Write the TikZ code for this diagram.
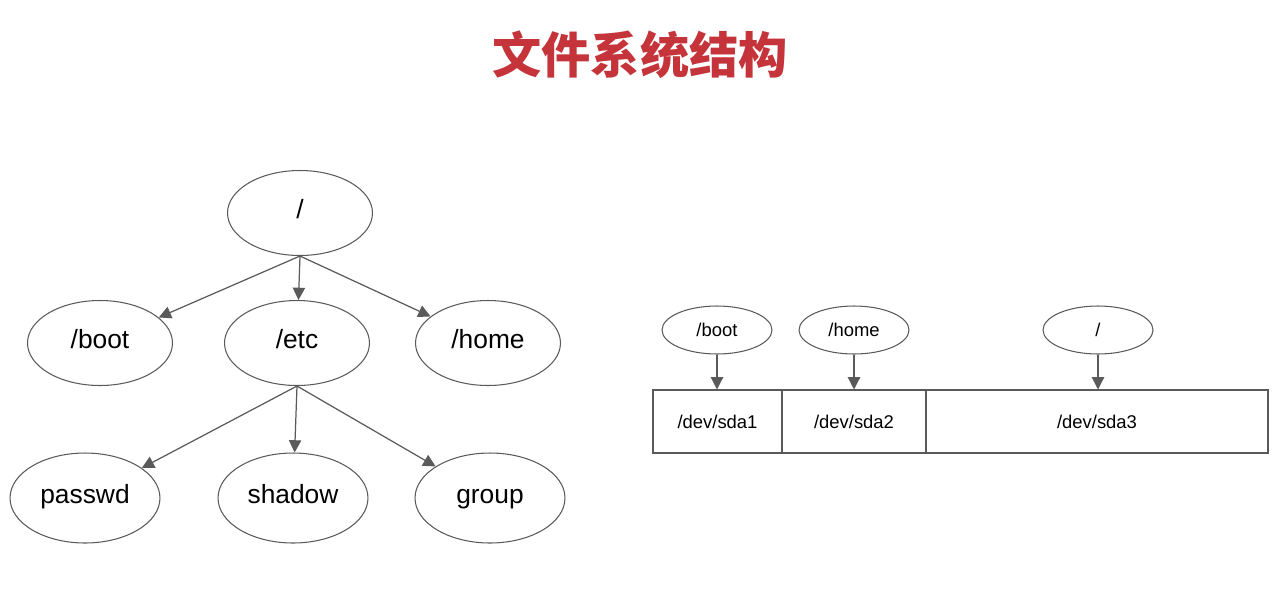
\documentclass[tikz,border=0pt]{standalone}
\usepackage{fontspec}
\setmainfont{Liberation Sans}
\newfontfamily\cjk{Noto Sans CJK SC}
\usetikzlibrary{arrows.meta,shapes.geometric}
\definecolor{titlered}{RGB}{196,52,58}
\definecolor{linegray}{RGB}{90,90,90}
\tikzset{
  big/.style={draw=linegray,ellipse,minimum width=2.9cm,minimum height=1.7cm,text height=1.6ex,text depth=0.45ex,font=\fontsize{15}{17}\selectfont},
  leaf/.style={big,minimum width=3cm,minimum height=1.8cm},
  small/.style={draw=linegray,ellipse,minimum width=2.2cm,minimum height=0.96cm,font=\fontsize{10.5}{12}\selectfont},
  part/.style={draw=linegray,minimum height=1.26cm,inner sep=0pt,font=\fontsize{10.5}{12}\selectfont},
  arr/.style={-{Triangle[length=7pt,width=7pt]},draw=linegray,line width=0.7pt}
}
\begin{document}
\begin{tikzpicture}[x=0.02cm,y=-0.02cm,line width=0.6pt]
\useasboundingbox (0,0) rectangle (1281,593);

\node[text=titlered,font=\cjk\bfseries\fontsize{28}{32}\selectfont] (Title) at (640,55) {文件系统结构};

% tree
\node[big] (Root) at (300,213) {/};
\node[big] (Boot) at (100,343) {/boot};
\node[big] (Etc) at (297,343) {/etc};
\node[big] (Home) at (488,343) {/home};
\node[leaf] (Passwd) at (85,498) {passwd};
\node[leaf] (Shadow) at (293,498) {shadow};
\node[leaf] (Group) at (490,498) {group};

\draw[arr] (Root.south) to (Boot);
\draw[arr] (Root.south) to (Etc);
\draw[arr] (Root.south) to (Home);
\draw[arr] (Etc.south) to (Passwd);
\draw[arr] (Etc.south) to (Shadow);
\draw[arr] (Etc.south) to (Group);

% partitions
\node[part,minimum width=2.58cm] (SdaA) at (717.5,421.5) {/dev/sda1};
\node[part,minimum width=2.88cm] (SdaB) at (854,421.5) {/dev/sda2};
\node[part,minimum width=6.84cm] (SdaC) at (1097,421.5) {/dev/sda3};

\node[small] (MntBoot) at (717,330) {/boot};
\node[small] (MntHome) at (854,330) {/home};
\node[small] (MntRoot) at (1098,330) {/};

\draw[arr] (MntBoot) to (MntBoot |- SdaA.north);
\draw[arr] (MntHome) to (MntHome |- SdaB.north);
\draw[arr] (MntRoot) to (MntRoot |- SdaC.north);

\end{tikzpicture}
\end{document}
